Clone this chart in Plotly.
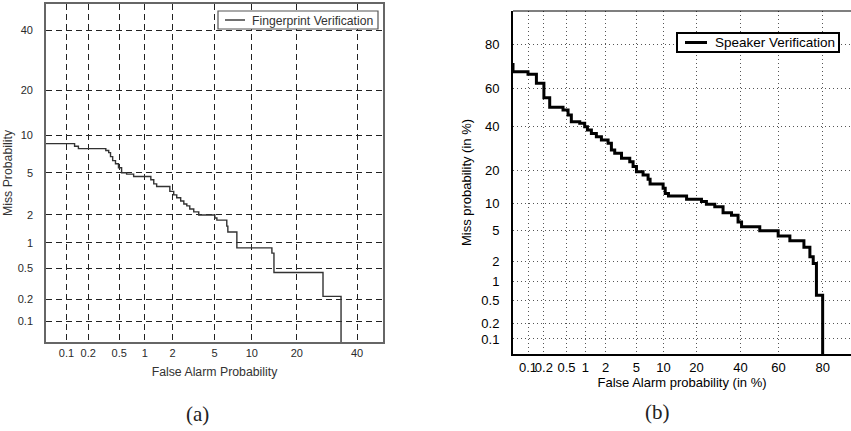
import plotly.graph_objects as go
from statistics import NormalDist

_nd = NormalDist()


def probit(pct):
    return _nd.inv_cdf(pct / 100.0)


# ---------------- data (percent) ----------------
# (a) Fingerprint verification DET curve (step start points)
fp_false_alarm = [0.04, 0.13, 0.147, 0.34, 0.37, 0.39, 0.415, 0.45, 0.49, 0.535,
                  0.615, 0.745, 1.17, 1.26, 1.355, 1.87, 2.05, 2.2, 2.41, 2.59,
                  2.77, 2.96, 3.23, 3.6, 5.03, 5.24, 6.36, 6.49, 7.68, 13.9,
                  14.35, 27.9, 34.1]
fp_miss = [8.7, 8.3, 7.96, 7.68, 7.4, 6.86, 6.36, 6.0, 5.55, 5.02,
           4.88, 4.66, 4.35, 4.0, 3.78, 3.41, 3.16, 2.96, 2.76, 2.58,
           2.47, 2.3, 2.15, 2.0, 1.86, 1.77, 1.53, 1.32, 0.88, 0.765,
           0.447, 0.221, 0.03]

# (b) Speaker verification DET curve (step start points)
spk_false_alarm = [0.05, 0.05, 0.1, 0.145, 0.2, 0.255, 0.436, 0.53, 0.60, 0.82,
                   0.98, 1.08, 1.24, 1.47, 1.74, 2.16, 2.4, 2.66, 3.27, 4.16,
                   4.57, 5.02, 6.0, 6.84, 7.2, 9.9, 10.4, 11.2, 16.5, 21.9,
                   23.9, 27.5, 31.3, 35.4, 38.7, 40.5, 50.1, 59.8, 65.7, 72.3,
                   74.9, 76.3, 77.6, 80.0]
spk_miss = [72.2, 68.2, 66.9, 62.5, 55.0, 49.9, 48.5, 45.8, 42.3, 41.5,
            39.7, 38.0, 36.3, 34.7, 33.1, 31.5, 28.4, 26.9, 24.8, 23.3,
            21.4, 19.5, 18.3, 16.8, 15.3, 14.0, 12.5, 11.8, 11.0, 10.4,
            9.8, 9.2, 7.96, 7.5, 6.3, 5.55, 4.97, 4.28, 3.75, 3.08,
            2.3, 1.86, 0.61, 0.03]

a_ticks = [0.1, 0.2, 0.5, 1, 2, 5, 10, 20, 40]
a_ticklabels = ["0.1", "0.2", "0.5", "1", "2", "5", "10", "20", "40"]
b_ticks = [0.1, 0.2, 0.5, 1, 2, 5, 10, 20, 40, 60, 80]
b_ticklabels = ["0.1", "0.2", "0.5", "1", "2", "5", "10", "20", "40", "60", "80"]

fp_name = "Fingerprint Verification"
spk_name = "Speaker Verification"

W, H = 851, 431
SANS = "Liberation Sans, Arial, sans-serif"


def px(xp):
    return xp / W


def py(yp):
    return 1 - yp / H


fig = go.Figure()

fig.add_trace(go.Scatter(
    x=[probit(v) for v in fp_false_alarm],
    y=[probit(v) for v in fp_miss],
    mode="lines", line_shape="hv",
    line=dict(color="#333333", width=1.4),
    name=fp_name, xaxis="x", yaxis="y", showlegend=False,
))

fig.add_trace(go.Scatter(
    x=[probit(v) for v in spk_false_alarm],
    y=[probit(v) for v in spk_miss],
    mode="lines", line_shape="hv",
    line=dict(color="black", width=3),
    name=spk_name, xaxis="x2", yaxis="y2", showlegend=False,
))

a_axis_common = dict(
    showline=True, mirror=True, linecolor="#666666", linewidth=1.6,
    showgrid=True, gridcolor="#222222", gridwidth=1.2, griddash="6px,4px",
    zeroline=False, ticks="", tickangle=0,
    tickfont=dict(family=SANS, size=11, color="#2a2a2a"),
)

# manual legend boxes (legend entries, not data marks)
legend_shapes = [
    dict(type="rect", xref="paper", yref="paper",
         x0=px(218), x1=px(378), y0=py(29), y1=py(11),
         line=dict(color="#555555", width=1.2), fillcolor="white", layer="above"),
    dict(type="line", xref="paper", yref="paper",
         x0=px(225), x1=px(245), y0=py(20), y1=py(20),
         line=dict(color="#333333", width=1.4), layer="above"),
    dict(type="rect", xref="paper", yref="paper",
         x0=px(677), x1=px(839), y0=py(52), y1=py(33),
         line=dict(color="black", width=2), fillcolor="white", layer="above"),
    dict(type="line", xref="paper", yref="paper",
         x0=px(685), x1=px(707), y0=py(42.5), y1=py(42.5),
         line=dict(color="black", width=3), layer="above"),
    # top border of panel (b)
    dict(type="line", xref="x2 domain", yref="y2 domain",
         x0=0, x1=1, y0=1, y1=1, line=dict(color="black", width=1.2)),
]

fig.update_layout(
    width=W, height=H,
    template="none",
    paper_bgcolor="white", plot_bgcolor="white",
    margin=dict(l=0, r=0, t=0, b=0),
    showlegend=False,
    xaxis=dict(
        domain=[px(46), px(383)],
        range=[probit(0.05), probit(50)],
        tickvals=[probit(v) for v in a_ticks], ticktext=a_ticklabels,
        title=dict(text="False Alarm Probability",
                   font=dict(family=SANS, size=12.3, color="#333333"), standoff=9),
        anchor="y", automargin=False,
        **a_axis_common,
    ),
    yaxis=dict(
        domain=[py(342), py(4)],
        range=[probit(0.05), probit(50)],
        tickvals=[probit(v) for v in a_ticks], ticktext=a_ticklabels,
        title=dict(text="Miss Probability",
                   font=dict(family=SANS, size=12.3, color="#333333"), standoff=2),
        anchor="x", automargin=False, ticklabelstandoff=9,
        **a_axis_common,
    ),
    xaxis2=dict(
        domain=[px(513), 1.0],
        range=[probit(0.05), 1.22],
        tickvals=[probit(v) for v in b_ticks], ticktext=b_ticklabels,
        showline=True, mirror=False, linecolor="black", linewidth=2,
        showgrid=True, gridcolor="#555555", gridwidth=1, griddash="1px,3px",
        zeroline=False, ticks="", tickangle=0,
        tickfont=dict(family=SANS, size=13, color="black"),
        title=dict(text="False Alarm probability (in %)",
                   font=dict(family=SANS, size=13, color="black"), standoff=4),
        anchor="y2", automargin=False,
    ),
    yaxis2=dict(
        domain=[py(354), py(11)],
        range=[probit(0.05), probit(90)],
        tickvals=[probit(v) for v in b_ticks], ticktext=b_ticklabels,
        showline=True, mirror=False, linecolor="black", linewidth=2,
        showgrid=True, gridcolor="#555555", gridwidth=1, griddash="1px,3px",
        zeroline=False, ticks="",
        tickfont=dict(family=SANS, size=13, color="black"),
        title=dict(text="Miss probability (in %)",
                   font=dict(family=SANS, size=13, color="black"), standoff=7),
        anchor="x2", automargin=False, ticklabelstandoff=9,
    ),
    shapes=legend_shapes,
    annotations=[
        dict(text=fp_name, x=px(250), y=py(20.5), xref="paper", yref="paper",
             showarrow=False, xanchor="left", yanchor="middle",
             font=dict(family=SANS, size=12.2, color="#333333")),
        dict(text=spk_name, x=px(713), y=py(42.5), xref="paper", yref="paper",
             showarrow=False, xanchor="left", yanchor="middle",
             font=dict(family=SANS, size=13.5, color="black")),
        dict(text="(a)", x=px(197), y=py(414), xref="paper", yref="paper",
             showarrow=False, xanchor="center", yanchor="middle",
             font=dict(family="Liberation Serif, serif", size=21, color="#222222")),
        dict(text="(b)", x=px(657), y=py(412), xref="paper", yref="paper",
             showarrow=False, xanchor="center", yanchor="middle",
             font=dict(family="Liberation Serif, serif", size=21, color="#222222")),
    ],
)

fig.write_html(
    "out.html",
    config={"displayModeBar": False},
    post_script="document.body.style.margin='0';document.body.style.overflow='hidden';",
)
